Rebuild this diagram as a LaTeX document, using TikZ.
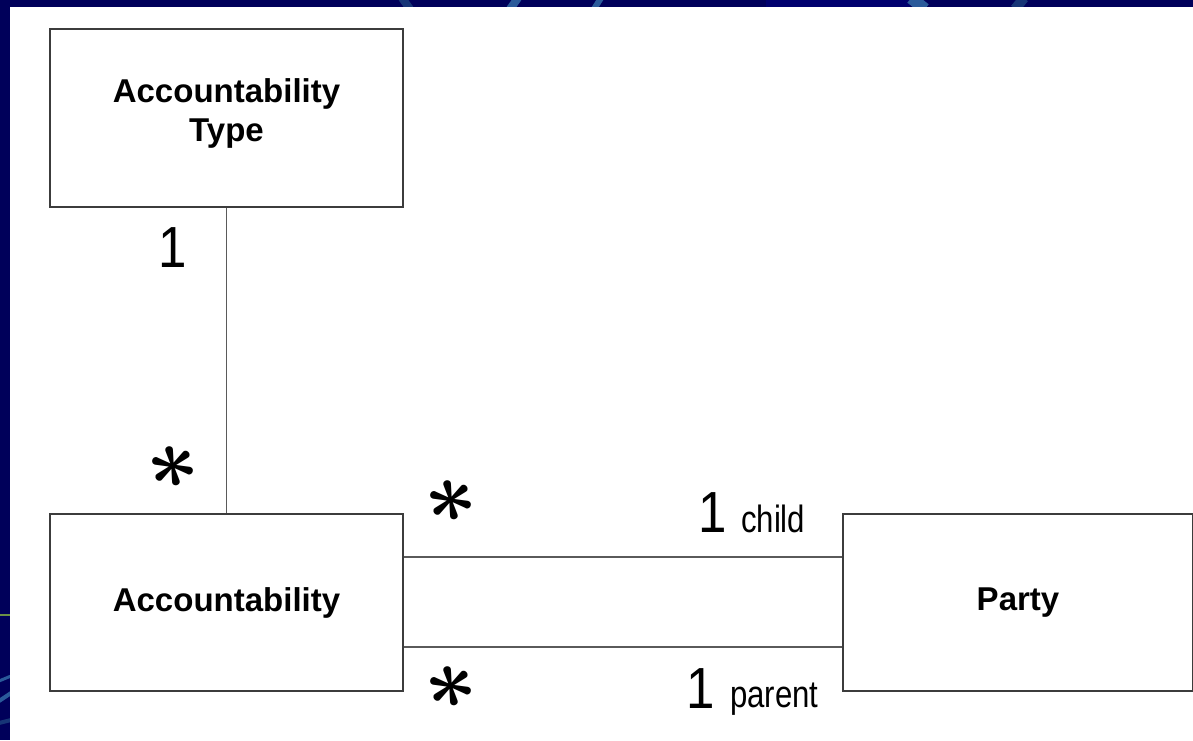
\documentclass[tikz,border=0pt]{standalone}
\usepackage{fontspec}
\setmainfont{Liberation Sans}
\definecolor{navy}{RGB}{0,0,90}
\definecolor{navylight}{RGB}{0,0,110}
\definecolor{arcblue}{RGB}{42,90,154}
\definecolor{arcdark}{RGB}{22,52,118}
\definecolor{arcgreen}{RGB}{107,143,71}
\definecolor{boxline}{RGB}{60,60,60}
\definecolor{linegray}{RGB}{90,90,90}
\begin{document}
\begin{tikzpicture}[x=1pt,y=-1pt,
  classbox/.style={draw=boxline, line width=2pt, fill=white, inner sep=0pt,
    font=\fontsize{33}{39}\selectfont\bfseries, align=center},
  assoc/.style={draw=linegray, line width=1.6pt},
  mult/.style={font=\fontsize{58}{58}\selectfont, xscale=0.88, inner sep=0pt, anchor=base},
  role/.style={font=\fontsize{38}{38}\selectfont, xscale=0.82, inner sep=0pt, anchor=base west},
  star/.style={font=\Huge\boldmath, scale=3.6, rotate=12, inner sep=0pt}]
\useasboundingbox (0,0) rectangle (1193,740);

% slide background with its decorative arcs
\fill[navy] (0,0) rectangle (1193,740);
\fill[navylight] (766,0) rectangle (910,8);
\draw[arcdark, line width=8pt] (402,-2) -- (410,9);
\draw[arcblue, line width=8pt] (518,-2) -- (510,9);
\draw[arcblue, line width=6pt] (601,-2) -- (594,9);
\draw[arcblue, line width=12pt] (911,-2) -- (925,9);
\draw[arcdark, line width=10pt] (1024,-2) -- (1015,9);
\draw[arcgreen, line width=2.5pt] (-1,615) -- (11,615);
\draw[arcblue, line width=3pt] (-1,681) -- (11,676);
\draw[arcblue, line width=4pt] (-1,701) -- (11,693);
\draw[arcdark, line width=4pt] (-1,723) -- (11,720);

% drawing area
\fill[white] (10,7) rectangle (1193,740);

% classes
\node[classbox, minimum width=353pt, minimum height=178pt] (acctype) at (226.5,118)
  {Accountability\\Type\rule[-16pt]{0pt}{1pt}};
\node[classbox, minimum width=353pt, minimum height=177pt] (acc) at (226.5,602.5) {Accountability};
\node[classbox, minimum width=350pt, minimum height=177pt] (party) at (1018,602.5) {Party};

% associations
\draw[assoc] (acctype.south) -- (acc.north);
\draw[assoc] ([yshift=-44pt]acc.north east) -- ([yshift=-44pt]party.north west);
\draw[assoc] ([yshift=45pt]acc.south east) -- ([yshift=45pt]party.south west);

% multiplicities and roles
\node[mult] (m1) at (173,267) {1};
\node[star] (s1) at (173,467) {$\ast$};
\node[star] (s2) at (451,501) {$\ast$};
\node[star] (s3) at (451,687) {$\ast$};
\node[mult] (m2) at (713,532) {1};
\node[role] (r1) at (741,532) {child};
\node[mult] (m3) at (701,708) {1};
\node[role] (r2) at (730,707) {parent};
\end{tikzpicture}
\end{document}
